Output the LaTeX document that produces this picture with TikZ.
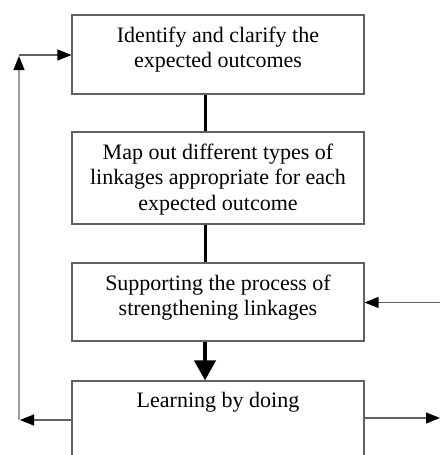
\documentclass[tikz,border=0pt]{standalone}
\usepackage{fontspec}
\setmainfont{Liberation Serif}
\usetikzlibrary{arrows.meta}
\begin{document}
\begin{tikzpicture}[x=1pt,y=-1pt,
  stepbox/.style={draw=black!62,line width=1.1pt,minimum width=292pt,inner sep=0pt},
  steptext/.style={anchor=north,align=center,inner sep=0pt,
    font=\fontsize{22}{25.5}\selectfont},
  link/.style={line width=3pt,black},
  flow/.style={line width=1.2pt,black!62,
    -{Triangle[length=14pt,width=11pt,color=black]}},
  back/.style={flow,draw=black!38},
  bigarrow/.style={line width=4pt,black,
    -{Triangle[length=20pt,width=21pt]}}]
\useasboundingbox (0,0) rectangle (440,455);

% the four steps
\node[stepbox,minimum height=79pt] (b1) at (218,54.5) {};
\node[stepbox,minimum height=92pt] (b2) at (218,178) {};
\node[stepbox,minimum height=78pt] (b3) at (218,302) {};
\node[stepbox,minimum height=94pt] (b4) at (218,428) {};

\node[steptext] (t1) at ([yshift=-12pt]b1.north)
  {Identify and clarify the\\expected outcomes};
\node[steptext] (t2) at ([yshift=-12pt]b2.north)
  {Map out different types of\\linkages appropriate for each\\expected outcome};
\node[steptext] (t3) at ([yshift=-12pt]b3.north)
  {Supporting the process of\\strengthening linkages};
\node[steptext] (t4) at ([yshift=-12pt]b4.north)
  {Learning by doing};

% vertical spine between the steps
\coordinate (spine) at (205,0);
\draw[link] (b1.south -| spine) -- (b2.north -| spine);
\draw[link] (b2.south -| spine) -- (b3.north -| spine);
\draw[bigarrow] (b3.south -| spine) -- (b4.north -| spine);

% feedback loop on the left
\coordinate (lb) at (19,420);
\coordinate (lt) at (19,55);
\coordinate (ltip) at (19,56);
\draw[flow] (b4.west |- lb) -- ([xshift=1pt]lb);
\draw[back] (lb) -- (ltip);
\draw[flow] (lt) -- (b1.west |- lt);

% links on the right
\coordinate (ra) at (440,302.5);
\coordinate (rb) at (440,418);
\draw[flow] (ra) -- (b3.east |- ra);
\draw[flow] (b4.east |- rb) -- (rb);
\end{tikzpicture}
\end{document}
